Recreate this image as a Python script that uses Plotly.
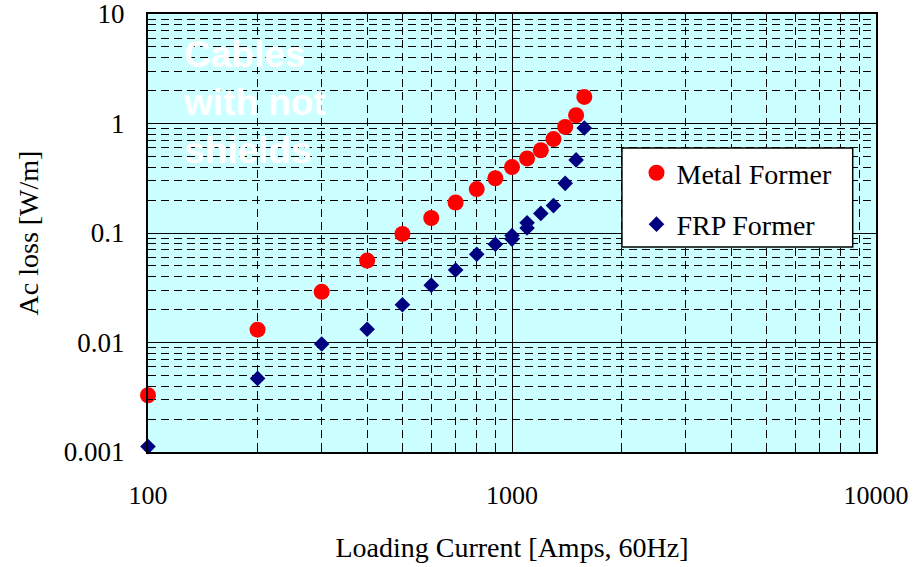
import plotly.graph_objects as go

# ---- data ----
current_metal = [100, 200, 300, 400, 500, 600, 700, 800, 900, 1000, 1100, 1200, 1300, 1400, 1500, 1580]
loss_metal = [0.0033, 0.0131, 0.029, 0.056, 0.098, 0.137, 0.19, 0.252, 0.316, 0.40, 0.48, 0.57, 0.72, 0.93, 1.19, 1.75]

current_frp = [100, 200, 300, 400, 500, 600, 700, 800, 900, 1000, 1000, 1100, 1100, 1200, 1300, 1400, 1500, 1580]
loss_frp = [0.00112, 0.0047, 0.0097, 0.0132, 0.0221, 0.0334, 0.046, 0.064, 0.079, 0.088, 0.095, 0.111, 0.124, 0.151, 0.178, 0.284, 0.465, 0.91]

x_tickvals = [100, 1000, 10000]
x_ticktext = ["100", "1000", "10000"]
y_tickvals = [0.001, 0.01, 0.1, 1, 10]
y_ticktext = ["0.001", "0.01", "0.1", "1", "10"]

serif = "Liberation Serif, Times New Roman, serif"
FS = 28

fig = go.Figure()
fig.add_trace(go.Scatter(
    x=current_metal, y=loss_metal, mode="markers", name="Metal Former",
    marker=dict(symbol="circle", size=16, color="#FF0000", line=dict(width=0)),
    cliponaxis=False, legendgroup="a"))
fig.add_trace(go.Scatter(
    x=current_frp, y=loss_frp, mode="markers", name="FRP Former",
    marker=dict(symbol="diamond", size=12, color="#000080", line=dict(width=0)),
    cliponaxis=False, legendgroup="b"))

axis_common = dict(
    type="log", showline=True, linecolor="black", linewidth=2, mirror=True,
    showgrid=True, gridcolor="black", gridwidth=1,
    ticks="inside", ticklen=0, tickcolor="black",
    zeroline=False, automargin=False, ticklabeloverflow="allow",
)
minor_common = dict(dtick="D1", showgrid=True, gridcolor="#000000", griddash="8px,5px",
                    gridwidth=1, ticks="inside", ticklen=5, tickcolor="black")

fig.update_xaxes(
    **axis_common,
    range=[2, 4], tickvals=x_tickvals, ticktext=x_ticktext,
    tickfont=dict(family=serif, size=26, color="black"),
    ticklabelstandoff=19,
    minor=minor_common,
    title=dict(text="Loading Current [Amps, 60Hz]", font=dict(family=serif, size=FS, color="black"),
               standoff=28),
)
fig.update_yaxes(
    **axis_common,
    range=[-3, 1], tickvals=y_tickvals, ticktext=y_ticktext,
    tickfont=dict(family=serif, size=27, color="black"),
    ticklabelstandoff=16,
    minor=minor_common,
    title=dict(text="Ac loss [W/m]", font=dict(family=serif, size=FS, color="black"),
               standoff=17),
)

fig.add_annotation(
    text="Cables<br>with not<br>shields", xref="paper", yref="paper",
    x=0.046, y=0.958, xanchor="left", yanchor="top", align="left", showarrow=False,
    font=dict(family="Liberation Sans, Arial, sans-serif", size=37, color="white", weight="bold"),
)

# legend frame (as in the reference, wider than the entries)
fig.add_shape(type="rect", xref="paper", yref="paper",
              x0=0.651, x1=0.968, y0=0.468, y1=0.694,
              fillcolor="white", line=dict(color="black", width=1.5), layer="above")

fig.update_layout(
    width=914, height=567,
    margin=dict(l=148, r=38, t=14, b=115),
    paper_bgcolor="white", plot_bgcolor="#CCFFFF",
    showlegend=True,
    legend=dict(
        x=0.671, y=0.694, xanchor="left", yanchor="top",
        bgcolor="rgba(0,0,0,0)", borderwidth=0,
        font=dict(family=serif, size=FS, color="black"),
        traceorder="grouped", tracegroupgap=12,
    ),
)

fig.write_html("out.html", config={"displayModeBar": False},
               post_script='document.body.style.margin="0";document.body.style.padding="0";')
